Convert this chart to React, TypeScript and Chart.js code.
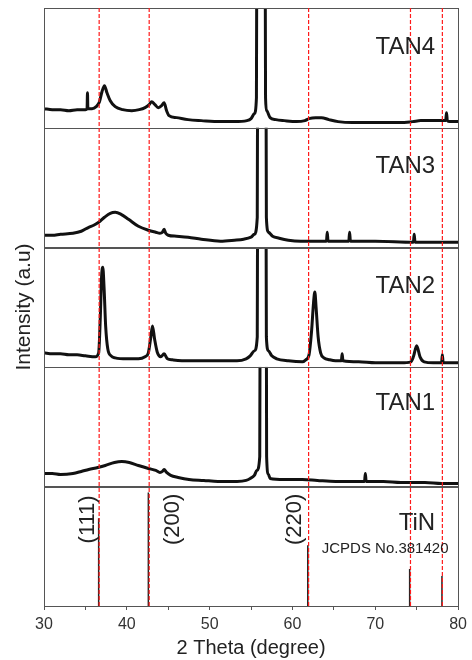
import React, { useEffect, useRef } from 'react';
import { Chart, registerables } from 'chart.js';

Chart.register(...registerables);

const FONT = "'Liberation Sans', Arial, sans-serif";

// ---- data (2θ in degree, intensity in arbitrary units) ----
const panelNames = ['TAN4', 'TAN3', 'TAN2', 'TAN1', 'TiN'];
const xTickValues = [30, 35, 40, 45, 50, 55, 60, 65, 70, 75, 80];
const xTickLabels = ['30', '', '40', '', '50', '', '60', '', '70', '', '80'];

const tan4: [number, number][] = [
  [30, 19], [31, 18], [32, 18], [33, 17], [34, 18], [35, 18], [35.2, 19], [35.25, 35], [35.3, 19],
  [35.8, 19], [36.3, 21], [36.7, 26], [37.0, 36], [37.3, 42], [37.6, 35], [38.0, 27], [38.6, 21],
  [39.5, 18], [40.6, 17], [41.5, 18], [42.2, 20], [42.7, 23], [43.0, 26], [43.4, 23], [43.8, 20],
  [44.2, 22], [44.5, 25], [44.8, 17], [45.1, 12], [46, 10], [47.4, 8], [49, 7], [51.3, 6], [53, 6],
  [54.5, 7], [55.0, 9], [55.4, 14], [55.65, 30], [55.75, 400], [56.2, 1500], [56.65, 400], [56.75, 30],
  [56.9, 17], [57.3, 10], [58, 8], [59, 7], [60.5, 6], [61.5, 7], [62.0, 9], [62.8, 10], [63.5, 10],
  [64.4, 8], [65.5, 6], [67.2, 5], [70, 5], [73, 5], [74.5, 6], [75.5, 7], [77, 7], [78.5, 7],
  [78.6, 15], [78.7, 7], [79, 6], [80, 6],
];

const tan3: [number, number][] = [
  [30, 12], [31, 12], [32, 13], [33.5, 14], [34.5, 16], [35.4, 20], [36.0, 22], [36.6, 25], [37.3, 30],
  [38.0, 34], [38.6, 35], [39.3, 33], [40.2, 28], [41.4, 21], [42.6, 17], [43.5, 15], [44.0, 14],
  [44.3, 15], [44.5, 18], [44.7, 14], [45, 12], [46, 11], [47.4, 10], [49, 8], [51.3, 6], [53, 7],
  [54.1, 8], [55.0, 10], [55.4, 13], [55.75, 30], [55.85, 400], [56.3, 1500], [56.75, 400], [56.85, 30],
  [57.1, 15], [57.6, 11], [58.4, 9], [59.5, 7], [61, 6], [62, 6], [64.1, 6], [64.2, 15], [64.3, 6],
  [66.8, 6], [66.9, 15], [67.0, 6], [70, 6], [74.6, 5], [74.7, 13], [74.8, 5], [77, 5], [80, 5],
];

const tan2: [number, number][] = [
  [30, 14], [31, 13], [32, 13], [33, 12], [34, 12], [35, 11], [36.2, 10], [36.6, 14], [36.8, 50],
  [36.95, 90], [37.1, 100], [37.25, 80], [37.45, 40], [37.7, 18], [38.1, 11], [38.6, 9], [40, 8],
  [41.4, 8], [42.2, 10], [42.6, 14], [42.9, 30], [43.1, 41], [43.35, 28], [43.7, 14], [44.1, 10],
  [44.5, 13], [44.9, 8], [45.5, 7], [47.4, 6], [50, 6], [53.3, 6], [54.4, 8], [54.9, 11], [55.4, 16],
  [55.75, 30], [55.85, 400], [56.3, 1500], [56.75, 400], [56.85, 30], [57.1, 16], [57.5, 11], [58.1, 8],
  [59.5, 6], [61.2, 5], [61.6, 7], [62.0, 12], [62.3, 35], [62.55, 65], [62.7, 75], [62.85, 60],
  [63.1, 30], [63.4, 14], [63.8, 9], [64.5, 7], [65.2, 6], [65.9, 6], [66.0, 13], [66.1, 6], [68, 5],
  [70, 4], [73.1, 4], [74.3, 5], [74.6, 10], [75.0, 21], [75.4, 10], [75.9, 5], [77, 4], [78.0, 4],
  [78.1, 12], [78.2, 4], [80, 4],
];

const tan1: [number, number][] = [
  [30, 13], [31, 13], [32, 12], [33.5, 13], [34.5, 15], [35.4, 17], [36.5, 19], [37.4, 21], [38.5, 24],
  [39.4, 25], [40.3, 24], [41.4, 21], [42.6, 18], [43.5, 16], [44.0, 14], [44.3, 15], [44.5, 17],
  [44.8, 14], [45.3, 11], [46.2, 9], [47.5, 7], [49.3, 6], [51, 5], [53.3, 5], [54.4, 6], [54.9, 8],
  [55.4, 11], [55.7, 16], [56.05, 30], [56.15, 400], [56.5, 1500], [56.8, 400], [56.88, 30], [57.1, 12],
  [57.3, 8], [59, 7], [61.2, 7], [63, 6], [65.2, 5], [68.7, 5], [68.8, 13], [68.9, 5], [71, 5],
  [73.1, 4], [76, 4], [78, 3], [80, 3],
];

const tinPeakPositions = [36.6, 42.6, 61.85, 74.15, 78.05];
const tinPeakHeights = [88, 114, 61, 37, 30];
const tinHklLabels = ['(111)', '(200)', '(220)'];
const tinHklAt = [35.3, 45.55, 60.3];
const referenceLines = [36.66, 42.7, 61.95, 74.25, 78.1];
const jcpdsText = 'JCPDS No.381420';

const panelAxisIds = ['yTAN4', 'yTAN3', 'yTAN2', 'yTAN1', 'yTiN'];

function toPoints(arr: [number, number][]) {
  return arr.map(([x, y]) => ({ x, y }));
}

function stickPoints(pos: number[], h: number[]) {
  const pts: { x: number; y: number | null }[] = [];
  pos.forEach((p, i) => {
    pts.push({ x: p, y: 0 });
    pts.push({ x: p, y: h[i] });
    pts.push({ x: p, y: null });
  });
  return pts;
}

const panelPlugin = {
  id: 'panelPlugin',
  beforeDatasetDraw(chart: any, args: any) {
    const meta = args.meta;
    const ys = chart.scales[meta.yAxisID];
    const ca = chart.chartArea;
    const ctx = chart.ctx;
    ctx.save();
    ctx.beginPath();
    ctx.rect(ca.left, ys.top, ca.right - ca.left, ys.bottom - ys.top);
    ctx.clip();
  },
  afterDatasetDraw(chart: any) {
    chart.ctx.restore();
  },
  afterDatasetsDraw(chart: any) {
    const ctx = chart.ctx;
    const ca = chart.chartArea;
    const xs = chart.scales.x;
    ctx.save();
    // panel frames
    ctx.strokeStyle = '#555';
    ctx.lineWidth = 1;
    panelAxisIds.forEach((id) => {
      const s = chart.scales[id];
      ctx.strokeRect(Math.round(ca.left) + 0.5, Math.round(s.top) + 0.5, Math.round(ca.right - ca.left), Math.round(s.bottom - s.top));
    });
    // reference dashed lines
    ctx.strokeStyle = '#ff1a1a';
    ctx.lineWidth = 1.2;
    ctx.setLineDash([4, 2]);
    referenceLines.forEach((v) => {
      const px = xs.getPixelForValue(v);
      ctx.beginPath();
      ctx.moveTo(px, ca.top);
      ctx.lineTo(px, ca.bottom);
      ctx.stroke();
    });
    ctx.setLineDash([]);
    // panel labels
    ctx.fillStyle = '#222';
    ctx.font = `24px ${FONT}`;
    ctx.textAlign = 'right';
    ctx.textBaseline = 'middle';
    panelAxisIds.forEach((id, i) => {
      const s = chart.scales[id];
      ctx.fillText(panelNames[i], ca.right - 23, s.top + (i >= 3 ? 37 : 39));
    });
    const tin = chart.scales.yTiN;
    ctx.font = `15px ${FONT}`;
    ctx.textAlign = 'center';
    ctx.fillText(jcpdsText, ca.right - 73, tin.top + 62);
    ctx.font = `22px ${FONT}`;
    tinHklLabels.forEach((t, i) => {
      const px = xs.getPixelForValue(tinHklAt[i]);
      ctx.save();
      ctx.translate(px, tin.top + 33);
      ctx.rotate(-Math.PI / 2);
      ctx.fillText(t, 0, 0);
      ctx.restore();
    });
    ctx.restore();
  },
};

export default function App() {
  const ref = useRef<HTMLCanvasElement | null>(null);
  useEffect(() => {
    if (!ref.current) return;
    const traces = [tan4, tan3, tan2, tan1];
    const datasets: any[] = traces.map((t, i) => ({
      label: panelNames[i],
      data: toPoints(t),
      yAxisID: panelAxisIds[i],
      xAxisID: 'x',
      borderColor: '#111',
      borderWidth: 3,
      pointRadius: 0,
      cubicInterpolationMode: 'monotone',
      fill: false,
    }));
    datasets.push({
      label: 'TiN',
      data: stickPoints(tinPeakPositions, tinPeakHeights),
      yAxisID: 'yTiN',
      xAxisID: 'x',
      borderColor: '#222',
      borderWidth: 1.5,
      pointRadius: 0,
      tension: 0,
      spanGaps: false,
      fill: false,
    });

    const scales: any = {
      x: {
        type: 'linear',
        position: 'bottom',
        min: 30,
        max: 80,
        afterBuildTicks: (s: any) => {
          s.ticks = xTickValues.map((v) => ({ value: v }));
        },
        ticks: {
          autoSkip: false,
          maxRotation: 0,
          padding: 5,
          color: '#333',
          font: { size: 16, family: FONT },
          callback: (v: any) => xTickLabels[xTickValues.indexOf(Number(v))] ?? '',
        },
        grid: { display: true, drawOnChartArea: false, drawTicks: true, tickLength: 4, color: '#555' },
        border: { display: true, color: '#555' },
        title: { display: true, text: '2 Theta (degree)', color: '#222', font: { size: 20, family: FONT }, padding: { top: 0, bottom: 0 } },
        afterFit: (s: any) => { s.height = 54; },
      },
      yTitle: {
        type: 'linear',
        position: 'left',
        weight: 10,
        min: 0,
        max: 1,
        ticks: { display: false },
        grid: { display: false },
        border: { display: false },
        title: { display: true, text: 'Intensity (a.u)', color: '#222', font: { size: 21, family: FONT }, padding: { top: 12, bottom: 0 } },
        afterFit: (s: any) => { s.width = 44; },
      },
    };
    // stacked axes are placed bottom-up, so add them from the bottom panel to the top panel
    [...panelAxisIds].reverse().forEach((id) => {
      scales[id] = {
        type: 'linear',
        position: 'left',
        stack: 'xrd',
        stackWeight: 1,
        weight: 0,
        min: 0,
        max: 120,
        ticks: { display: false },
        grid: { display: false },
        border: { display: false },
        afterFit: (s: any) => { s.width = 0; },
      };
    });

    const chart = new Chart(ref.current, {
      type: 'line',
      data: { datasets },
      options: {
        animation: false,
        responsive: true,
        maintainAspectRatio: false,
        layout: { padding: { top: 8, right: 8, left: 0, bottom: 0 } },
        plugins: { legend: { display: false }, tooltip: { enabled: false } },
        scales,
      } as any,
      plugins: [panelPlugin],
    });
    return () => chart.destroy();
  }, []);

  return (
    <div style={{ position: 'absolute', left: 0, top: 0, width: 472, height: 660, background: '#fff' }}>
      <canvas ref={ref} />
    </div>
  );
}
